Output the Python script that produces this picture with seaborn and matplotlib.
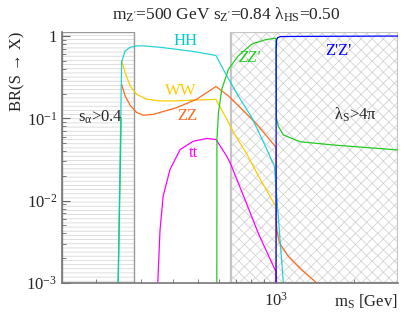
import matplotlib
matplotlib.use('Agg')
import matplotlib.pyplot as plt
import matplotlib.ticker as mticker
import seaborn as sns

# branching ratios of S (mass in GeV)
mass_hh = [244, 252, 260, 272, 288, 306, 355, 412, 493, 585, 634, 714, 806, 893, 986, 1070]
br_hh = [8e-4, 0.48, 0.66, 0.73, 0.76, 0.76, 0.73, 0.69, 0.64, 0.58, 0.36, 0.187, 0.102, 0.052, 0.026, 0.0009]

mass_ww = [252, 260, 272, 288, 315, 355, 412, 478, 585, 634, 693, 770, 854, 948, 990, 999, 1000]
br_ww = [0.50, 0.36, 0.248, 0.196, 0.171, 0.163, 0.163, 0.167, 0.17, 0.107, 0.063, 0.037, 0.020, 0.0113, 0.0088, 0.0087, 1e-4]

mass_zz = [252, 260, 272, 288, 306, 335, 412, 493, 585, 654, 737, 830, 920, 991, 999, 1002, 1010, 1030, 1116, 1257, 1438, 1500]
br_zz = [0.26, 0.187, 0.144, 0.118, 0.109, 0.112, 0.135, 0.171, 0.244, 0.187, 0.129, 0.089, 0.061, 0.046, 0.044, 0.0055, 0.0042, 0.0031, 0.0021, 0.00144, 0.001, 0.0008]

mass_tt = [347, 348, 355, 365, 388, 425, 478, 539, 585, 644, 664, 714, 758, 854, 986, 999, 1000]
br_tt = [1e-4, 0.001, 0.0044, 0.0113, 0.0239, 0.0419, 0.0528, 0.057, 0.0554, 0.0347, 0.0288, 0.0164, 0.0103, 0.0040, 0.0015, 0.0014, 1e-4]

mass_zzp = [589, 590, 598, 616, 654, 714, 806, 907, 986, 999, 1003, 1021, 1067, 1239, 1668, 2970]
br_zzp = [1e-4, 0.055, 0.117, 0.226, 0.396, 0.575, 0.80, 0.90, 0.94, 0.94, 0.101, 0.080, 0.063, 0.052, 0.0475, 0.0413]
mass_zzp_low = [244, 251]
br_zzp_low = [8e-4, 0.1]

mass_zpzp = [1000, 1001, 1005, 1015, 1040, 1200, 2970]
br_zpzp = [1e-4, 0.7, 0.9, 0.96, 0.985, 0.99, 1.0]

# excluded regions
salpha_max = 281
lams_min = 666

sns.set_style('ticks')
plt.rcParams['font.family'] = ['Liberation Serif', 'DejaVu Serif']
plt.rcParams['mathtext.fontset'] = 'custom'
plt.rcParams['mathtext.rm'] = 'Liberation Serif'
plt.rcParams['mathtext.it'] = 'Liberation Serif:italic'
plt.rcParams['mathtext.default'] = 'rm'
plt.rcParams['hatch.linewidth'] = 0.6

fig = plt.figure(figsize=(4.15, 3.19), dpi=100)
ax = fig.add_axes([62/415, 1-283/319, 336/415, 251/319])
ax.set_xscale('log')
ax.set_yscale('log')
xmin, xmax = 148, 2970
ax.set_xlim(xmin, xmax)
ax.set_ylim(1e-3, 1.12)

ax.axvspan(xmin, salpha_max, facecolor='white', edgecolor='#d8d8d8', hatch='----', lw=0, zorder=0)
ax.axvspan(xmin, salpha_max, fill=False, edgecolor='#999999', lw=1, zorder=0.5)
ax.axvspan(lams_min, xmax, facecolor='white', edgecolor='#d4d4d4', hatch='xxx', lw=0, zorder=0)
ax.axvspan(lams_min, xmax, fill=False, edgecolor='#c4c4c4', lw=1.6, zorder=0.5)

lw = 0.9
sns.lineplot(x=mass_ww, y=br_ww, color='#ffcc00', lw=lw, sort=False, estimator=None, ax=ax)
sns.lineplot(x=mass_zz, y=br_zz, color='#ff6a1f', lw=lw, sort=False, estimator=None, ax=ax)
sns.lineplot(x=mass_tt, y=br_tt, color='#ff00ff', lw=lw, sort=False, estimator=None, ax=ax)
sns.lineplot(x=mass_zzp_low, y=br_zzp_low, color='#22cc22', lw=lw, sort=False, estimator=None, ax=ax)
sns.lineplot(x=mass_zzp, y=br_zzp, color='#22cc22', lw=lw, sort=False, estimator=None, ax=ax)
sns.lineplot(x=mass_hh, y=br_hh, color='#00cccc', lw=lw, sort=False, estimator=None, ax=ax, alpha=0.85)
sns.lineplot(x=mass_zpzp, y=br_zpzp, color='#0000ff', lw=lw, sort=False, estimator=None, ax=ax)

fs = 12
ax.text(208, 0.104, r's$_{\alpha}$>0.4', fontsize=fs, ha='center', va='center')
ax.text(444, 0.87, 'HH', color='#00cccc', fontsize=fs, ha='center', va='center')
ax.text(428, 0.215, 'WW', color='#ffcc00', fontsize=fs, ha='center', va='center')
ax.text(452, 0.107, 'ZZ', color='#ff6a1f', fontsize=fs, ha='center', va='center')
ax.text(477, 0.038, 'tt', color='#ff00ff', fontsize=fs, ha='center', va='center')
ax.text(793, 0.54, "ZZ'", color='#22cc22', fontsize=fs, style='italic', ha='center', va='center')
ax.text(1739, 0.665, "Z'Z'", color='#0000ff', fontsize=fs, ha='center', va='center')
ax.text(2024, 0.11, r'λ$_{S}$>4π', fontsize=fs, ha='center', va='center')

ax.set_yticks([1e-3, 1e-2, 1e-1, 1], labels=['10$^{-3}$', '10$^{-2}$', '10$^{-1}$', '1'])
ax.set_xticks([1000], labels=['10$^{3}$'])
ax.xaxis.set_minor_formatter(mticker.NullFormatter())
ax.yaxis.set_minor_formatter(mticker.NullFormatter())
ax.tick_params(which='both', direction='in', color='#666666', labelsize=fs)
ax.tick_params(which='major', length=6)
ax.tick_params(axis='x', which='major', pad=6)
ax.tick_params(which='minor', length=3)
for side in ['top', 'right']:
    ax.spines[side].set_visible(False)
for side in ['left', 'bottom']:
    ax.spines[side].set_color('#777777')
    ax.spines[side].set_linewidth(1.2)

ax.set_ylabel('BR(S → X)', fontsize=fs, ha='right', va='center')
ax.yaxis.set_label_coords(-(62 - 17) / 336, 1.0)
ax.set_xlabel('m$_{S}$ [Gev]', fontsize=fs, ha='right', va='center')
ax.xaxis.set_label_coords(1.0, -(302 - 283) / 251)
fig.text(226/415, 1-15/319, "m$_{Z'}$=500 GeV s$_{Z'}$=0.84 λ$_{HS}$=0.50",
         fontsize=12.5, ha='center', va='center')

fig.savefig('out.png', dpi=100)
